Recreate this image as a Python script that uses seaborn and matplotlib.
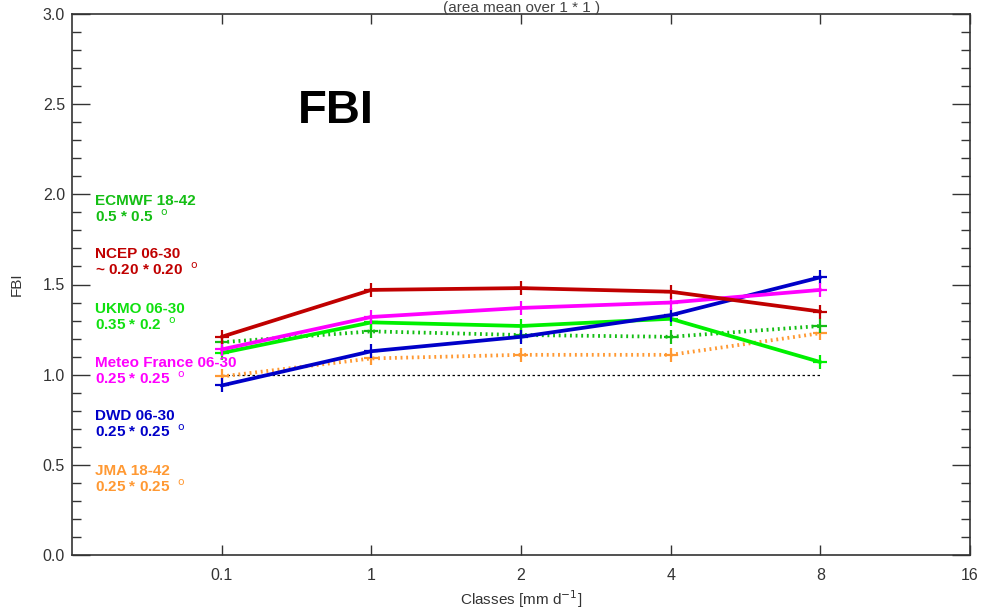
import matplotlib
matplotlib.use("Agg")
import matplotlib.pyplot as plt
import seaborn as sns
import numpy as np
import pandas as pd
from matplotlib.ticker import MultipleLocator

# ---- data ----
classes = ["0.1", "1", "2", "4", "8"]
tick_labels = ["0.1", "1", "2", "4", "8", "16"]

ecmwf = [1.18, 1.24, 1.22, 1.21, 1.27]
ncep = [1.21, 1.47, 1.48, 1.46, 1.35]
ukmo = [1.12, 1.29, 1.27, 1.31, 1.07]
meteofrance = [1.14, 1.32, 1.37, 1.40, 1.47]
dwd = [0.94, 1.13, 1.21, 1.33, 1.54]
jma = [0.99, 1.09, 1.11, 1.11, 1.23]
reference = [1.0, 1.0, 1.0, 1.0, 1.0]

series_names = ["ECMWF", "NCEP", "UKMO", "Meteo France", "DWD", "JMA"]
series_values = [ecmwf, ncep, ukmo, meteofrance, dwd, jma]
series_colors = ["#14be14", "#c00000", "#00f000", "#ff00ff", "#0000c8", "#ff9933"]
series_dotted = [True, False, False, False, False, True]

label_line1 = ["ECMWF 18-42", "NCEP 06-30", "UKMO 06-30", "Meteo France 06-30",
               "DWD 06-30", "JMA 18-42"]
label_line2 = ["0.5 * 0.5", "~ 0.20 * 0.20", "0.35 * 0.2", "0.25 * 0.25",
               "0.25 * 0.25", "0.25 * 0.25"]

# ---- figure ----
sns.set_style("white")
plt.rcParams["font.family"] = ["Liberation Sans", "DejaVu Sans"]
fig = plt.figure(figsize=(9.9, 6.13), dpi=100)
ax = fig.add_axes([72 / 990, 1 - 555 / 613, 898 / 990, 541 / 613])

pos = np.arange(len(classes))

# reference line
sns.lineplot(x=pos, y=reference, ax=ax, color="black", linewidth=0.9,
             linestyle=(0, (2, 2)), zorder=2)

draw_order = [5, 0, 2, 4, 3, 1]
for i in draw_order:
    ls = (0, (0.5, 1.0)) if series_dotted[i] else "-"
    sns.lineplot(x=pos, y=series_values[i], ax=ax, color=series_colors[i],
                 linewidth=2.7, linestyle=ls, marker="+", markersize=10,
                 markeredgewidth=1.6, markeredgecolor=series_colors[i], zorder=3)

ax.set_xlim(-1, 5)
ax.set_ylim(0, 3)
ax.set_xticks(np.arange(len(tick_labels)))
ax.set_xticklabels(tick_labels)
ax.yaxis.set_major_locator(MultipleLocator(0.5))
ax.yaxis.set_minor_locator(MultipleLocator(0.1))
ax.yaxis.set_major_formatter(matplotlib.ticker.FormatStrFormatter("%.1f"))

for s in ax.spines.values():
    s.set_visible(True)
    s.set_color("#333333")
    s.set_linewidth(1.2)

ax.tick_params(axis="y", which="major", direction="in", length=13, width=1.0,
               left=True, right=True, labelsize=11.5, colors="#333333", pad=5)
ax.tick_params(axis="y", which="minor", direction="in", length=6.5, width=1.0,
               left=True, right=True, colors="#333333")
ax.tick_params(axis="x", which="major", direction="in", length=7, width=1.0,
               bottom=True, top=True, labelsize=11.5, colors="#333333", pad=9)

ax.set_xlabel("Classes [mm d$^{-1}$]", fontsize=11, color="#333333", labelpad=4)
ax.set_ylabel("FBI", fontsize=11, color="#333333", labelpad=14)
ax.grid(False)

# big FBI label
ax.text(298, 613 - 123, "FBI", transform=None, fontsize=34, fontweight="bold",
        color="black", ha="left", va="baseline")

# legend-like labels
base1 = [205, 258, 313, 367, 420, 475]
for i in range(len(series_names)):
    col = series_colors[i] if i != 2 else "#10e010"
    ax.text(95, 613 - base1[i], label_line1[i], transform=None, fontsize=11,
            fontweight="bold", color=col, ha="left", va="baseline", zorder=5)
    ax.text(95, 613 - (base1[i] + 17), label_line2[i] + r"  $^{\mathrm{o}}$",
            transform=None, fontsize=11, fontweight="bold", color=col,
            ha="left", va="baseline", zorder=5)

# title at top
fig.text(0.527, 1 - 1 / 613, "(area mean over 1 * 1 )", fontsize=11,
         color="#444444", ha="center", va="top")

fig.savefig("out.png", dpi=100)
